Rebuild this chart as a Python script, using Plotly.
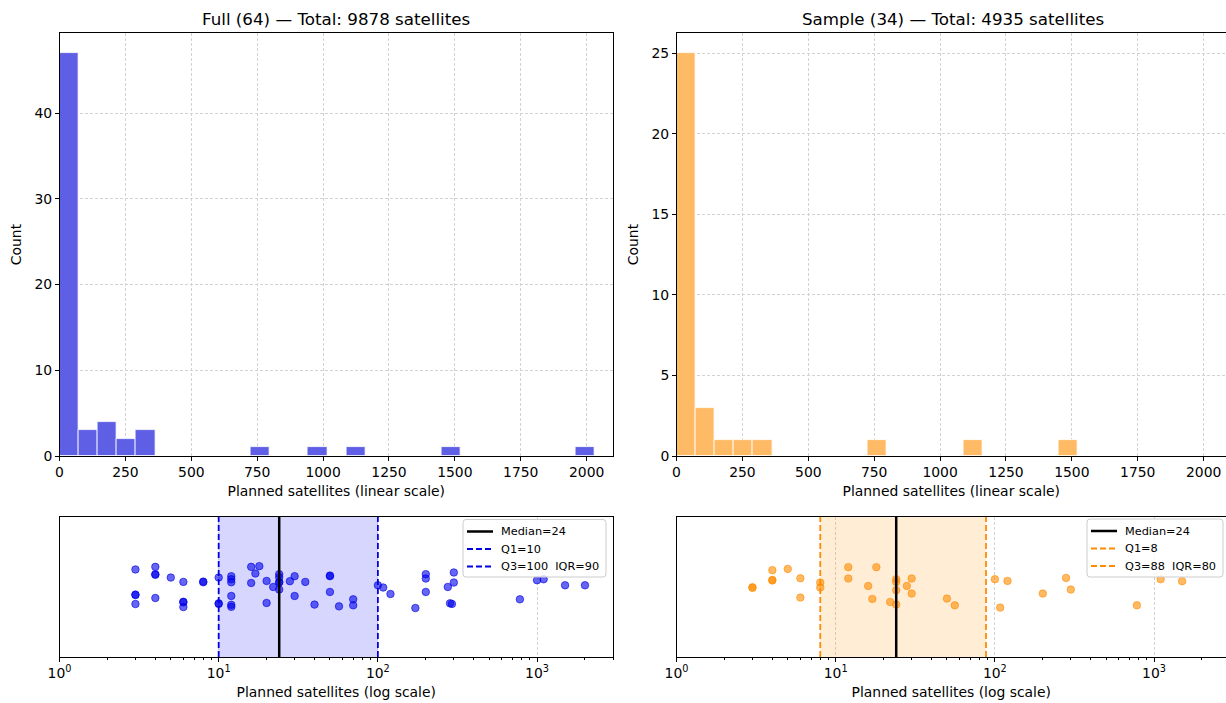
import plotly.graph_objects as go

# ---------------- data ----------------
full_values = [3, 3, 3, 3, 4, 4, 4, 4, 5, 6, 6, 6, 6, 8, 8, 10, 10, 10,
               12, 12, 12, 12, 12, 12, 16, 16, 17, 18, 20, 20, 22,
               24, 24, 24, 24, 24, 28, 30, 30, 35, 40, 50, 50, 50, 57, 70, 70,
               100, 108, 120, 172, 200, 200, 200, 275, 284, 292, 300, 300,
               780, 1000, 1100, 1500, 2000]
full_jitter = [0.246, -0.111, -0.119, -0.246, 0.283, 0.179, 0.170, -0.160, 0.131,
               0.069, -0.213, -0.221, -0.289, 0.073, 0.064, 0.131, -0.236, -0.244,
               0.150, 0.107, 0.064, -0.131, -0.257, -0.286, 0.283, 0.054, 0.189, 0.293,
               0.083, -0.231, -0.003,
               0.179, 0.136, 0.069, 0.061, -0.040, 0.079, 0.150, -0.131, 0.069, -0.254,
               0.159, 0.150, -0.074, -0.279, -0.179, -0.264,
               0.021, -0.011, -0.103, -0.303, 0.179, 0.117, -0.074, -0.003, -0.236, -0.244,
               0.203, 0.060, -0.179, 0.093, 0.107, 0.021, 0.021]

sample_values = [3, 3, 4, 4, 4, 5, 6, 6, 8, 8, 12, 12, 16, 17, 18, 22,
                 24, 24, 24, 24, 28, 30, 30, 50, 56,
                 100, 108, 120, 200, 280, 300, 780, 1100, 1500]
sample_jitter = [-0.007, -0.016, 0.236, 0.097, 0.089, 0.254, 0.121, -0.154, 0.060, -0.011,
                 0.279, 0.117, 0.011, -0.174, 0.279, -0.217,
                 0.107, 0.069, -0.050, -0.254, 0.011, 0.117, -0.097, -0.169, -0.264,
                 0.107, -0.297, 0.083, -0.097, 0.126, -0.040, -0.264, 0.107, 0.079]

full_title = "Full (64) — Total: 9878 satellites"
sample_title = "Sample (34) — Total: 4935 satellites"

full_q1, full_median, full_q3 = 10, 24, 100
sample_q1, sample_median, sample_q3 = 8, 24, 88
full_labels = ["Median=24", "Q1=10", "Q3=100\u00a0 IQR=90"]
sample_labels = ["Median=24", "Q1=8", "Q3=88\u00a0 IQR=80"]

bin_start, bin_end, bin_size = 0, 2030, 72.5
hist_ticks = [0, 250, 500, 750, 1000, 1250, 1500, 1750, 2000]
log_major = [1, 10, 100, 1000]
log_major_text = ["10<sup>0</sup>", "10<sup>1</sup>", "10<sup>2</sup>", "10<sup>3</sup>"]
log_minor = [m * d for d in (1, 10, 100, 1000) for m in range(2, 10)]

# ---------------- styles ----------------
W, H = 1226, 703
FONT = "DejaVu Sans"
BLUE_BAR = "#5f5fe6"
ORANGE_BAR = "#ffba66"
BLUE_PT = "rgba(0,0,235,0.6)"
ORANGE_PT = "rgba(255,140,0,0.6)"
BLUE_LINE = "#0000e0"
ORANGE_LINE = "#ff8c00"
BLUE_FILL = "rgba(0,0,255,0.16)"
ORANGE_FILL = "rgba(255,140,0,0.16)"
GRID = "#d2d2d2"
DASH = "6px,3px"

left_dom = [59.5 / W, 613 / W]
right_dom = [676.5 / W, 1.0]
hist_dom = [1 - 456 / H, 1 - 33 / H]
strip_dom = [1 - 657 / H, 1 - 516.5 / H]
vis = (W - 676.5) / (613 - 59.5)  # visible fraction of the right panels

fig = go.Figure()

# histograms
fig.add_trace(go.Histogram(x=full_values, xbins=dict(start=bin_start, end=bin_end, size=bin_size),
                           autobinx=False, marker=dict(color=BLUE_BAR, line=dict(color="white", width=0.8)),
                           xaxis="x", yaxis="y", showlegend=False, hoverinfo="skip"))
fig.add_trace(go.Histogram(x=sample_values, xbins=dict(start=bin_start, end=bin_end, size=bin_size),
                           autobinx=False, marker=dict(color=ORANGE_BAR, line=dict(color="white", width=0.8)),
                           xaxis="x2", yaxis="y2", showlegend=False, hoverinfo="skip"))


def strip(values, jitter, q1, med, q3, labels, pt, line_col, fill, xa, ya):
    fig.add_trace(go.Scatter(x=[q1, q3, q3, q1, q1], y=[-1, -1, 1, 1, -1], mode="none",
                             fill="toself", fillcolor=fill, xaxis=xa, yaxis=ya,
                             showlegend=False, hoverinfo="skip"))
    fig.add_trace(go.Scatter(x=values, y=jitter, mode="markers",
                             marker=dict(size=7.5, color=pt, line=dict(color=pt, width=1)),
                             xaxis=xa, yaxis=ya, showlegend=False, hoverinfo="skip"))
    fig.add_trace(go.Scatter(x=[med, med], y=[-1, 1], mode="lines", name=labels[0],
                             line=dict(color="black", width=2.5), xaxis=xa, yaxis=ya, showlegend=False))
    fig.add_trace(go.Scatter(x=[q1, q1], y=[-1, 1], mode="lines", name=labels[1],
                             line=dict(color=line_col, width=1.8, dash=DASH),
                             xaxis=xa, yaxis=ya, showlegend=False))
    fig.add_trace(go.Scatter(x=[q3, q3], y=[-1, 1], mode="lines", name=labels[2],
                             line=dict(color=line_col, width=1.8, dash=DASH),
                             xaxis=xa, yaxis=ya, showlegend=False))


strip(full_values, full_jitter, full_q1, full_median, full_q3, full_labels,
      BLUE_PT, BLUE_LINE, BLUE_FILL, "x3", "y3")
strip(sample_values, sample_jitter, sample_q1, sample_median, sample_q3, sample_labels,
      ORANGE_PT, ORANGE_LINE, ORANGE_FILL, "x4", "y4")

# ---------------- compact matplotlib-like legends (boxes, handles, labels) ----------------
shapes = []
annotations = []


def px(x):
    return x / W


def py(y):
    return 1 - y / H


def legend_box(left, right, top, bottom, labels, line_col):
    r = 3
    x0, x1, y0, y1 = left, right, top, bottom
    path = (f"M {px(x0 + r)},{py(y0)} L {px(x1 - r)},{py(y0)} Q {px(x1)},{py(y0)} {px(x1)},{py(y0 + r)} "
            f"L {px(x1)},{py(y1 - r)} Q {px(x1)},{py(y1)} {px(x1 - r)},{py(y1)} "
            f"L {px(x0 + r)},{py(y1)} Q {px(x0)},{py(y1)} {px(x0)},{py(y1 - r)} "
            f"L {px(x0)},{py(y0 + r)} Q {px(x0)},{py(y0)} {px(x0 + r)},{py(y0)} Z")
    shapes.append(dict(type="path", path=path, xref="paper", yref="paper", layer="above",
                       fillcolor="rgba(255,255,255,0.8)", line=dict(color="#cccccc", width=1)))
    rows = [top + 12, top + 29.5, top + 47]
    styles = [dict(color="black", width=2.5), dict(color=line_col, width=1.8, dash=DASH),
              dict(color=line_col, width=1.8, dash=DASH)]
    for yrow, lab, st in zip(rows, labels, styles):
        shapes.append(dict(type="line", xref="paper", yref="paper", layer="above",
                           x0=px(left + 4), x1=px(left + 30), y0=py(yrow), y1=py(yrow), line=st))
        annotations.append(dict(text=lab, x=px(left + 36), y=py(yrow), xref="paper", yref="paper",
                                showarrow=False, xanchor="left", yanchor="middle",
                                font=dict(family=FONT, size=11.3, color="black")))


legend_box(463, 606, 519.5, 577, full_labels, BLUE_LINE)
legend_box(1087, 1223, 519, 577, sample_labels, ORANGE_LINE)

annotations += [
    dict(text=full_title, x=(left_dom[0] + left_dom[1]) / 2, y=1 - 19 / H, xref="paper", yref="paper",
         showarrow=False, xanchor="center", yanchor="middle", font=dict(family=FONT, size=16.7, color="black")),
    dict(text=sample_title, x=(676.5 + 1230) / 2 / W, y=1 - 19 / H, xref="paper", yref="paper",
         showarrow=False, xanchor="center", yanchor="middle", font=dict(family=FONT, size=16.7, color="black")),
]

common = dict(showline=True, linecolor="black", linewidth=1, ticks="outside", ticklen=3.5,
              tickwidth=1, tickcolor="black", zeroline=False, automargin=False,
              tickfont=dict(family=FONT, size=13.9, color="black"),
              gridcolor=GRID, gridwidth=0.8, griddash="3px,2px")

xtitle_lin = dict(text="Planned satellites (linear scale)", font=dict(family=FONT, size=13.9), standoff=7)
xtitle_log = dict(text="Planned satellites (log scale)", font=dict(family=FONT, size=13.9), standoff=7)
ytitle = dict(text="Count", font=dict(family=FONT, size=13.9), standoff=9)

minor_log = dict(tickvals=log_minor, ticks="outside", ticklen=2, tickcolor="black",
                 tickwidth=0.8, showgrid=False)

fig.update_layout(
    xaxis=dict(domain=left_dom, anchor="y", range=[0, 2100], tickvals=hist_ticks,
               showgrid=True, mirror=True, title=xtitle_lin, **common),
    yaxis=dict(domain=hist_dom, anchor="x", range=[0, 49.35], tickvals=[0, 10, 20, 30, 40],
               showgrid=True, mirror=True, title=ytitle, **common),
    xaxis2=dict(domain=right_dom, anchor="y2", range=[0, 2100 * vis], tickvals=hist_ticks,
                showgrid=True, mirror=True, title=xtitle_lin, **common),
    yaxis2=dict(domain=hist_dom, anchor="x2", range=[0, 26.25], tickvals=[0, 5, 10, 15, 20, 25],
                showgrid=True, mirror=False, title=ytitle, **common),
    xaxis3=dict(domain=left_dom, anchor="y3", type="log", range=[0, 3.4771],
                tickvals=log_major, ticktext=log_major_text, showgrid=True, mirror=True,
                minor=minor_log, title=xtitle_log, **common),
    yaxis3=dict(domain=strip_dom, anchor="x3", range=[-1, 1], showline=True, linecolor="black",
                linewidth=1, mirror=True, showticklabels=False, ticks="", showgrid=False,
                zeroline=False, automargin=False),
    xaxis4=dict(domain=right_dom, anchor="y4", type="log", range=[0, 3.4771 * vis],
                tickvals=log_major, ticktext=log_major_text, showgrid=True, mirror=True,
                minor=minor_log, title=xtitle_log, **common),
    yaxis4=dict(domain=strip_dom, anchor="x4", range=[-1, 1], showline=True, linecolor="black",
                linewidth=1, mirror=False, showticklabels=False, ticks="", showgrid=False,
                zeroline=False, automargin=False),
    shapes=shapes,
    annotations=annotations,
    showlegend=False,
    width=W, height=H, margin=dict(l=0, r=0, t=0, b=0),
    plot_bgcolor="white", paper_bgcolor="white", bargap=0,
    font=dict(family=FONT, size=13.9, color="black"),
    template="none",
)

fig.write_html("out.html")
